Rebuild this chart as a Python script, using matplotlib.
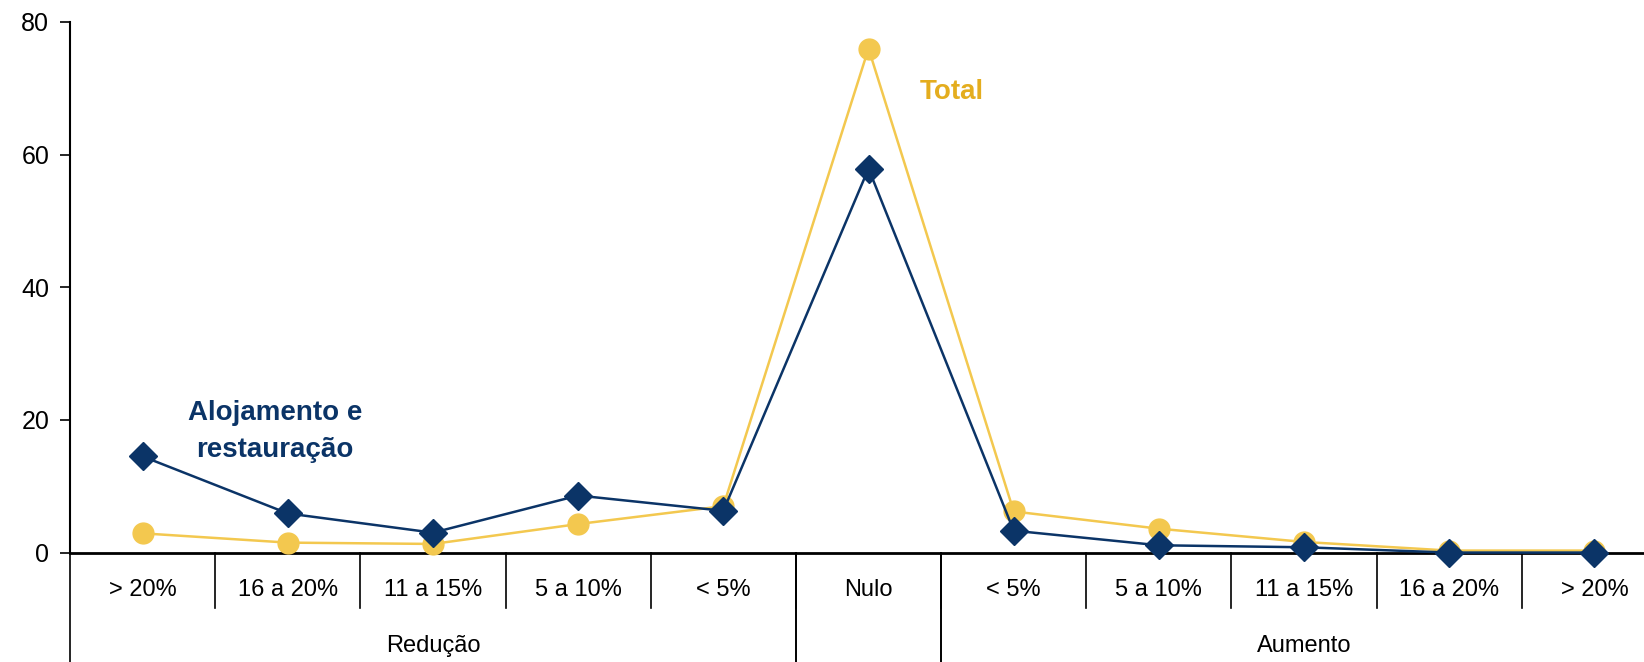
import numpy as np
import matplotlib
matplotlib.use("Agg")
import matplotlib.pyplot as plt

plt.rcParams['font.family'] = ['Liberation Sans Narrow', 'Liberation Sans', 'DejaVu Sans']

# categorias e grupos
categorias = ["> 20%", "16 a 20%", "11 a 15%", "5 a 10%", "< 5%", "Nulo",
              "< 5%", "5 a 10%", "11 a 15%", "16 a 20%", "> 20%"]
grupos = ["Redução", "", "Aumento"]
grupo_limites = [(0, 5), (5, 6), (6, 11)]

# valores (%)
alojamento = [14.5, 5.9, 3.0, 8.6, 6.3, 57.9, 3.3, 1.1, 0.8, 0.0, 0.0]
total = [2.9, 1.5, 1.3, 4.3, 7.0, 76.0, 6.2, 3.6, 1.6, 0.3, 0.3]

navy = "#0B3467"
amarelo = "#F3C84F"

fig = plt.figure(figsize=(16.44, 6.62), dpi=100)
ax = fig.add_axes([0.0426, 0.1653, 0.9714, 0.8015])

x = np.arange(len(categorias))
ax.plot(x, total, color=amarelo, lw=1.8, marker='o', ms=15, clip_on=False, zorder=3)
ax.plot(x, alojamento, color=navy, lw=1.8, marker='D', ms=14, clip_on=False, zorder=4)

ax.set_xlim(-0.5, len(categorias) - 0.5)
ax.set_ylim(0, 80)
ax.set_yticks([0, 20, 40, 60, 80])
ax.tick_params(axis='y', labelsize=18, length=7, width=1.2, direction='out', pad=8)
ax.set_xticks([])

for s in ['top', 'right']:
    ax.spines[s].set_visible(False)
ax.spines['left'].set_linewidth(1.5)
ax.spines['bottom'].set_linewidth(2)

# eixo de categorias em dois níveis
tr = ax.get_xaxis_transform()
for i in range(1, len(categorias)):
    ax.plot([i - 0.5, i - 0.5], [0, -0.104], color='black', lw=1.2, transform=tr, clip_on=False)
for a, b in grupo_limites:
    for e in (a, b):
        ax.plot([e - 0.5, e - 0.5], [0, -0.21], color='black', lw=1.2, transform=tr, clip_on=False)
for i, c in enumerate(categorias):
    ax.text(i, -0.07, c, transform=tr, ha='center', va='center', fontsize=17)
for g, (a, b) in zip(grupos, grupo_limites):
    if g:
        ax.text((a + b - 1) / 2, -0.176, g, transform=tr, ha='center', va='center', fontsize=17)

ax.text(5.35, 69.4, "Total", color="#E4AD1E", fontsize=20, fontweight='bold', ha='left', va='center')
ax.text(0.91, 18.3, "Alojamento e\nrestauração", color=navy, fontsize=20, fontweight='bold',
        ha='center', va='center', linespacing=1.55)

fig.savefig("out.png", dpi=100)
